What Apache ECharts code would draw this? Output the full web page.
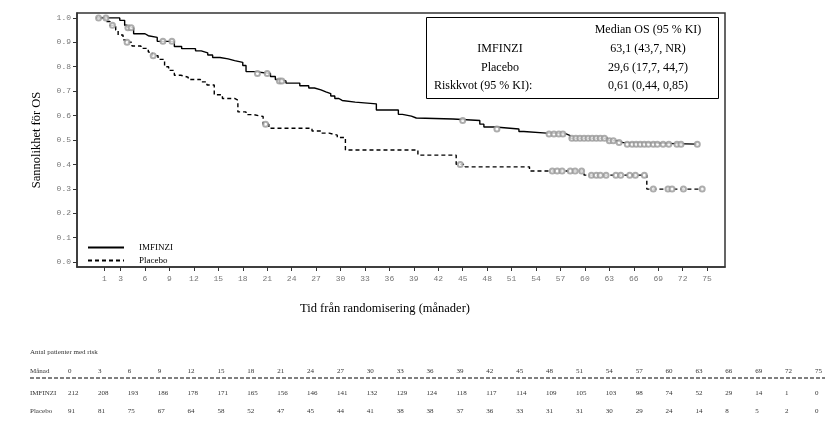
<!DOCTYPE html>
<html>
<head>
<meta charset="utf-8">
<script src="https://cdn.jsdelivr.net/npm/echarts@6/dist/echarts.min.js"></script>
<style>
  html, body { margin: 0; padding: 0; background: #fff; }
  #chart { width: 825px; height: 421px; }
</style>
</head>
<body>
<div id="chart"></div>
<script>
// Kaplan-Meier steg: [månad, sannolikhet]
var imfinziSteps = [
  [0, 1.0], [2.9, 0.99], [3.5, 0.97], [3.8, 0.96], [4.6, 0.935], [6.0, 0.927],
  [6.4, 0.92], [7.5, 0.904], [9.6, 0.883], [10.5, 0.874], [12.2, 0.865],
  [12.9, 0.857], [13.7, 0.848], [14.3, 0.838], [15.2, 0.832], [16.2, 0.825],
  [17.0, 0.818], [18.0, 0.805], [18.4, 0.78], [19.4, 0.772], [21.4, 0.76],
  [22.0, 0.748], [22.4, 0.742], [23.3, 0.733], [25.0, 0.722], [26.1, 0.713],
  [26.8, 0.705], [27.6, 0.697], [28.2, 0.69], [28.8, 0.68], [29.3, 0.67],
  [29.8, 0.662], [30.2, 0.655], [31.8, 0.648], [34.4, 0.623], [37.1, 0.605],
  [37.6, 0.598], [38.7, 0.59], [39.3, 0.586], [43.8, 0.58], [47.1, 0.565],
  [47.6, 0.553], [49.0, 0.545], [51.9, 0.535], [52.5, 0.528], [55.3, 0.525],
  [57.7, 0.518], [58.2, 0.507], [62.8, 0.497], [64.0, 0.49], [64.6, 0.483],
  [73.8, 0.483]
];
var placeboSteps = [
  [0, 1.0], [1.1, 0.985], [1.7, 0.97], [2.4, 0.95], [2.7, 0.93], [3.3, 0.91],
  [3.6, 0.90], [4.4, 0.885], [5.5, 0.875], [6.4, 0.86], [6.9, 0.845],
  [7.6, 0.83], [8.4, 0.80], [8.9, 0.785], [9.6, 0.765], [10.4, 0.757],
  [11.3, 0.748], [12.8, 0.738], [13.6, 0.725], [14.5, 0.685], [15.5, 0.67],
  [17.0, 0.663], [17.4, 0.615], [18.4, 0.604], [19.3, 0.596], [20.5, 0.565],
  [21.2, 0.548], [26.5, 0.537], [27.6, 0.528], [28.6, 0.52], [29.6, 0.51],
  [30.6, 0.459], [39.5, 0.438], [44.2, 0.40], [45.3, 0.39], [53.2, 0.373],
  [59.9, 0.356], [67.6, 0.299], [74.4, 0.299]
];
// censurerade observationer
var imfinziCensor = [
  [0.3, 1.0], [1.2, 1.0], [3.9, 0.96], [4.3, 0.96], [8.2, 0.904], [9.3, 0.904],
  [19.8, 0.772], [21.0, 0.772], [22.5, 0.742], [22.8, 0.742], [45.0, 0.58],
  [49.2, 0.545], [55.6, 0.525], [56.2, 0.525], [56.8, 0.525], [57.3, 0.525],
  [58.4, 0.507], [58.9, 0.507], [59.4, 0.507], [59.9, 0.507], [60.4, 0.507],
  [60.9, 0.507], [61.4, 0.507], [61.9, 0.507], [62.4, 0.507], [63.0, 0.497],
  [63.5, 0.497], [64.2, 0.49], [65.2, 0.483], [65.8, 0.483], [66.3, 0.483],
  [66.8, 0.483], [67.3, 0.483], [67.8, 0.483], [68.4, 0.483], [68.9, 0.483],
  [69.6, 0.483], [70.3, 0.483], [71.3, 0.483], [71.8, 0.483], [73.8, 0.483]
];
var placeboCensor = [
  [2.0, 0.97], [3.8, 0.90], [7.0, 0.845], [20.8, 0.565], [44.7, 0.40],
  [56.0, 0.373], [56.6, 0.373], [57.2, 0.373], [58.2, 0.373], [58.8, 0.373],
  [59.6, 0.373], [60.8, 0.356], [61.4, 0.356], [61.9, 0.356], [62.6, 0.356],
  [63.8, 0.356], [64.4, 0.356], [65.5, 0.356], [66.2, 0.356], [67.3, 0.356],
  [68.4, 0.299], [70.2, 0.299], [70.7, 0.299], [72.1, 0.299], [74.4, 0.299]
];

var xTicks = [1, 3, 6, 9, 12, 15, 18, 21, 24, 27, 30, 33, 36, 39, 42, 45, 48, 51, 54, 57, 60, 63, 66, 69, 72, 75];
var yTicks = [0, 0.1, 0.2, 0.3, 0.4, 0.5, 0.6, 0.7, 0.8, 0.9, 1.0];

// tabell: antal patienter med risk
var riskMonths = [0, 3, 6, 9, 12, 15, 18, 21, 24, 27, 30, 33, 36, 39, 42, 45, 48, 51, 54, 57, 60, 63, 66, 69, 72, 75];
var imfinziRisk = [212, 208, 193, 186, 178, 171, 165, 156, 146, 141, 132, 129, 124, 118, 117, 114, 109, 105, 103, 98, 74, 52, 29, 14, 1, 0];
var placeboRisk = [91, 81, 75, 67, 64, 58, 52, 47, 45, 44, 41, 38, 38, 37, 36, 33, 31, 31, 30, 29, 24, 14, 8, 5, 2, 0];

var boxRows = [
  ['IMFINZI', '63,1 (43,7, NR)'],
  ['Placebo', '29,6 (17,7, 44,7)'],
  ['Riskkvot (95 % KI):', '0,61 (0,44, 0,85)']
];

var serif = '"Liberation Serif", "DejaVu Serif", serif';
var mono = '"Liberation Mono", "DejaVu Sans Mono", monospace';

var chart = echarts.init(document.getElementById('chart'));

var graphics = [];
// ruta med median OS
graphics.push({
  type: 'rect', left: 426, top: 17,
  shape: { width: 292, height: 81 },
  style: { fill: '#fff', stroke: '#000', lineWidth: 1 }, z: 10
});
graphics.push({
  type: 'text', x: 648, y: 30,
  style: { text: 'Median OS (95 % KI)', font: '12px ' + serif, fill: '#000', textAlign: 'center', textVerticalAlign: 'middle' }, z: 11
});
boxRows.forEach(function (r, i) {
  var last = i === boxRows.length - 1;
  graphics.push({
    type: 'text', x: last ? 434 : 500, y: 49 + i * 18.5,
    style: { text: r[0], font: '12px ' + serif, fill: '#000', textAlign: last ? 'left' : 'center', textVerticalAlign: 'middle' }, z: 11
  });
  graphics.push({
    type: 'text', x: 648, y: 49 + i * 18.5,
    style: { text: r[1], font: '12px ' + serif, fill: '#000', textAlign: 'center', textVerticalAlign: 'middle' }, z: 11
  });
});

// risktabell
var colX = function (i) { return 68 + i * 29.88; };
var tableFont = '7px ' + serif;
graphics.push({
  type: 'text', x: 30, y: 352,
  style: { text: 'Antal patienter med risk', font: tableFont, fill: '#333', textVerticalAlign: 'middle' }
});
var rows = [
  { label: 'Månad', vals: riskMonths, y: 371 },
  { label: 'IMFINZI', vals: imfinziRisk, y: 393 },
  { label: 'Placebo', vals: placeboRisk, y: 411 }
];
rows.forEach(function (row) {
  graphics.push({
    type: 'text', x: 30, y: row.y,
    style: { text: row.label, font: tableFont, fill: '#333', textVerticalAlign: 'middle' }
  });
  row.vals.forEach(function (v, i) {
    graphics.push({
      type: 'text', x: colX(i), y: row.y,
      style: { text: String(v), font: tableFont, fill: '#333', textVerticalAlign: 'middle' }
    });
  });
});
graphics.push({
  type: 'line',
  shape: { x1: 30, y1: 378, x2: 825, y2: 378 },
  style: { stroke: '#000', lineWidth: 1, lineDash: [4, 2] }
});

chart.setOption({
  animation: false,
  backgroundColor: '#fff',
  grid: {
    left: 77, right: 100, top: 13, bottom: 154,
    show: true, borderColor: '#333', borderWidth: 1.5
  },
  legend: {
    data: ['IMFINZI', 'Placebo'],
    orient: 'vertical',
    left: 82, top: 238,
    itemWidth: 36, itemHeight: 8, itemGap: 4,
    itemStyle: { opacity: 0 },
    textStyle: { fontFamily: serif, fontSize: 9, color: '#000', padding: [0, 0, 0, 10] }
  },
  xAxis: {
    type: 'value',
    min: -2.35, max: 77.2,
    name: 'Tid från randomisering (månader)',
    nameLocation: 'middle',
    nameGap: 35,
    nameTextStyle: { fontFamily: serif, fontSize: 12.5, color: '#000', padding: [0, 32, 0, 0] },
    axisLine: { show: true, onZero: false, lineStyle: { color: '#333', width: 1.5 } },
    axisTick: { show: true, customValues: xTicks, length: 4, lineStyle: { color: '#333' } },
    axisLabel: { customValues: xTicks, fontFamily: mono, fontSize: 8, color: '#777', margin: 8 },
    splitLine: { show: false }
  },
  yAxis: {
    type: 'value',
    min: -0.02, max: 1.02,
    name: 'Sannolikhet för OS',
    nameLocation: 'middle',
    nameGap: 34,
    nameTextStyle: { fontFamily: serif, fontSize: 12.5, color: '#000' },
    axisLine: { show: true, onZero: false, lineStyle: { color: '#333', width: 1.5 } },
    axisTick: { show: true, customValues: yTicks, length: 4, lineStyle: { color: '#333' } },
    axisLabel: {
      customValues: yTicks, fontFamily: mono, fontSize: 8, color: '#777', margin: 6,
      formatter: function (v) { return v.toFixed(1); }
    },
    splitLine: { show: false }
  },
  series: [
    {
      name: 'IMFINZI', type: 'line', step: 'end', symbol: 'none',
      data: imfinziSteps,
      lineStyle: { color: '#000', width: 1.4 },
      itemStyle: { color: '#000' }
    },
    {
      name: 'Placebo', type: 'line', step: 'end', symbol: 'none',
      data: placeboSteps,
      lineStyle: { color: '#000', width: 1.4, type: [4, 3] },
      itemStyle: { color: '#000' }
    },
    {
      name: 'IMFINZI censur', type: 'scatter', symbol: 'emptyCircle', symbolSize: 5,
      data: imfinziCensor,
      itemStyle: { color: '#999', borderWidth: 0.8 }, z: 3
    },
    {
      name: 'Placebo censur', type: 'scatter', symbol: 'emptyCircle', symbolSize: 5,
      data: placeboCensor,
      itemStyle: { color: '#999', borderWidth: 0.8 }, z: 3
    }
  ],
  graphic: graphics
});
</script>
</body>
</html>
